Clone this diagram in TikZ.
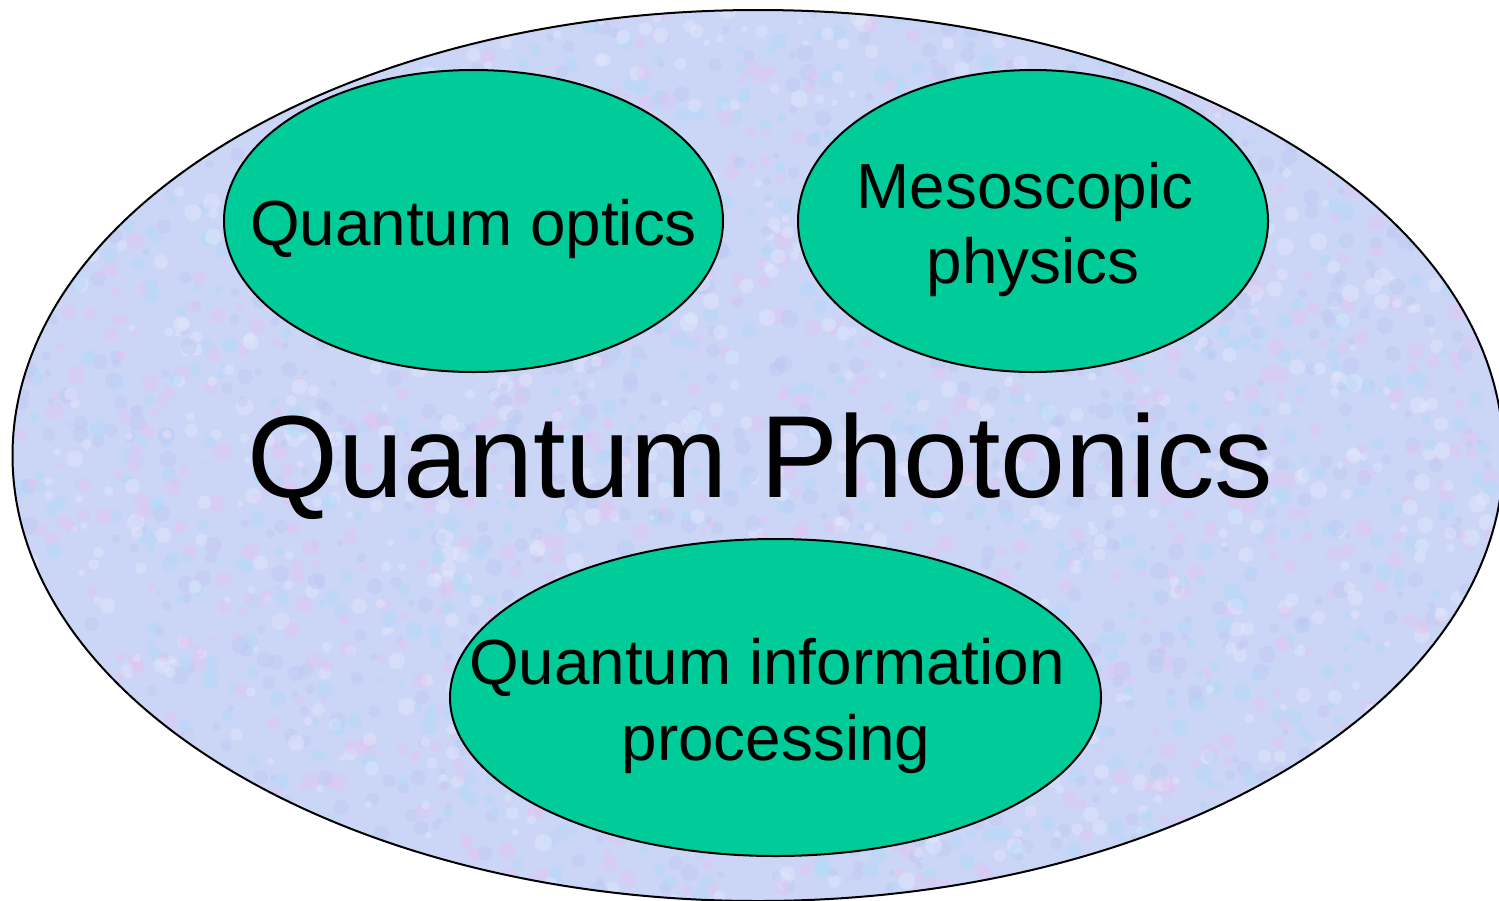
\documentclass[tikz,border=0pt]{standalone}
\usepackage{fontspec}
\setmainfont{Liberation Sans}
\usetikzlibrary{shapes.geometric}
\definecolor{bgfill}{RGB}{203,213,246}
\definecolor{texa}{RGB}{175,220,250}
\definecolor{texb}{RGB}{230,195,240}
\definecolor{texc}{RGB}{188,198,242}
\definecolor{texd}{RGB}{230,235,252}
\definecolor{topic}{RGB}{0,204,153}
\tikzset{
  outer/.style={ellipse, draw=black, line width=1pt, inner sep=0pt},
  topicbox/.style={ellipse, draw=black, line width=1pt, fill=topic, inner sep=0pt},
  label/.style={font=\fontsize{31.9}{38}\selectfont, anchor=base, inner sep=0pt},
  biglabel/.style={font=\fontsize{58.4}{70}\selectfont, anchor=base, inner sep=0pt},
  speck/.style={opacity=0.4},
}
\begin{document}
\begin{tikzpicture}[x=0.5pt,y=-0.5pt]
\useasboundingbox (0,0) rectangle (1499,900);
\clip (0,0) rectangle (1499,900);
\begin{scope}
  \clip (758,455.5) ellipse [x radius=745.5, y radius=445.5];
  \fill[bgfill] (0,0) rectangle (1499,900);
  \pgfmathsetseed{12345}
  \foreach \i in {1,...,4000} {
    \pgfmathsetmacro{\px}{rnd*1499}
    \pgfmathsetmacro{\py}{rnd*900}
    \pgfmathsetmacro{\pr}{3+rnd*6}
    \pgfmathtruncatemacro{\pc}{int(rnd*4)}
    \ifcase\pc
      \fill[texa, speck] (\px,\py) circle [radius=\pr];
    \or
      \fill[texb, speck] (\px,\py) circle [radius=\pr];
    \or
      \fill[texc, speck] (\px,\py) circle [radius=\pr];
    \else
      \fill[texd, speck] (\px,\py) circle [radius=\pr];
    \fi
  }
\end{scope}
\node[outer, minimum width=1491*0.5pt, minimum height=891*0.5pt] (qp) at (758,455.5) {};
\node[topicbox, minimum width=499*0.5pt, minimum height=302*0.5pt] (qo) at (473.5,221) {};
\node[topicbox, minimum width=470*0.5pt, minimum height=302*0.5pt] (mp) at (1033,221) {};
\node[topicbox, minimum width=651*0.5pt, minimum height=317*0.5pt] (qi) at (775.5,697.5) {};
\node[label] (qot) at (473.5,245) {Quantum optics};
\node[label] (mpt1) at (1025,208) {Mesoscopic};
\node[label] (mpt2) at (1033,283) {physics};
\node[label] (qit1) at (767,684) {Quantum information};
\node[label] (qit2) at (776,760) {processing};
\node[biglabel] (qpt) at (760.5,497) {Quantum Photonics};
\end{tikzpicture}
\end{document}
